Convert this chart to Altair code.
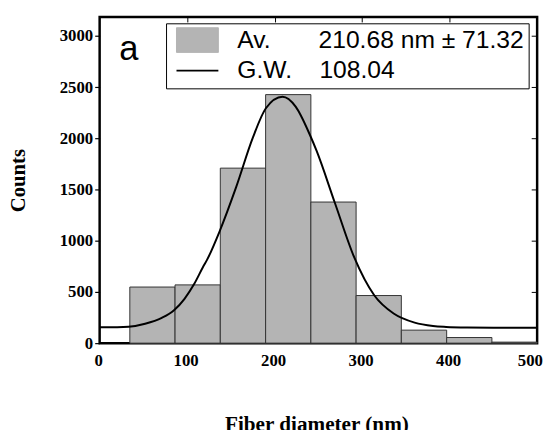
import altair as alt
import pandas as pd

# ---- data ----
bin_edges = [34.5, 86.2, 137.9, 189.7, 241.4, 293.1, 344.8, 396.6, 448.3, 500.0]
bin_counts = [548, 569, 1709, 2427, 1378, 465, 127, 55, 10]

curve_x = [0, 20, 33, 52, 71, 85, 97, 108, 118, 123, 137, 156, 175, 190, 209,
           224, 240, 248, 269, 291, 314, 336, 360, 381, 396, 420, 450, 500]
curve_y = [155, 156, 160, 190, 247, 321, 433, 577, 741, 818, 1090, 1524, 2005,
           2294, 2406, 2310, 2040, 1877, 1366, 837, 465, 289, 200, 167, 158,
           152, 150, 150]

x_ticks = [0, 100, 200, 300, 400, 500]
y_ticks = [0, 500, 1000, 1500, 2000, 2500, 3000]
series_names = ["Av.", "G.W."]
av_text = "Av." + "\u00a0" * 7 + "210.68 nm \u00b1 71.32"
gw_text = "G.W." + "\u00a0" * 4 + "108.04"
panel_label = "a"
x_title = "Fiber diameter (nm)"
y_title = "Counts"

bars_df = pd.DataFrame({
    "x0": bin_edges[:-1],
    "x1": bin_edges[1:],
    "count": bin_counts,
    "series": series_names[0],
})
curve_df = pd.DataFrame({"x": curve_x, "y": curve_y, "series": series_names[1]})

SERIF = "Liberation Serif"
SANS = "Liberation Sans"

xscale = alt.Scale(domain=[0, 500], nice=False, zero=False)
yscale = alt.Scale(domain=[0, 3185], nice=False)
cscale = alt.Scale(domain=series_names, range=["#b4b4b4", "#000000"])

is_av = "datum.value == 'Av.'"
legend = alt.Legend(
    title=None,
    orient="none",
    legendX=67.4,
    legendY=6.4,
    strokeColor="#000000",
    fillColor="#ffffff",
    padding=4.5,
    symbolSize=625,
    symbolOffset=14.85,
    labelOffset=28,
    rowPadding=4,
    labelFont=SANS,
    labelFontSize=25,
    labelColor="#000000",
    labelLimit=0,
    labelExpr=f"{is_av} ? '{av_text}' : '{gw_text}'",
    symbolType={"expr": f"{is_av} ? 'M-1.7,-1H1.7V1H-1.7Z' : 'M-1.7,0H1.7'"},
    symbolFillColor={"expr": f"{is_av} ? '#b4b4b4' : 'transparent'"},
    symbolStrokeColor={"expr": f"{is_av} ? '#333333' : '#000000'"},
    symbolStrokeWidth={"expr": f"{is_av} ? 1 : 1.8"},
    symbolOpacity=1,
)

bars = alt.Chart(bars_df).mark_rect(stroke="#333333", strokeWidth=1, opacity=1).encode(
    x=alt.X(
        "x0:Q",
        scale=xscale,
        axis=alt.Axis(
            values=x_ticks,
            orient="bottom",
            ticks=False,
            tickSize=0,
            domain=False,
            grid=False,
            labelPadding=10,
            labelFont=SERIF,
            labelFontSize=17,
            labelFontWeight="bold",
            labelColor="#000000",
            labelAlign="center",
            labelOffset={"condition": {"test": "datum.value == 500", "value": -7.3}, "value": -1.5},
            title=x_title,
            titleFont=SERIF,
            titleFontSize=21.5,
            titleFontWeight="bold",
            titleColor="#000000",
            titleX=220,
            titleY=88.5,
            titleAlign="center",
            titleBaseline="alphabetic",
        ),
    ),
    x2="x1:Q",
    y=alt.Y(
        "count:Q",
        scale=yscale,
        axis=alt.Axis(
            values=y_ticks,
            format="d",
            orient="left",
            ticks=True,
            tickSize=5,
            tickWidth=1.2,
            tickColor="#000000",
            domain=False,
            grid=False,
            labelPadding=2,
            labelFont=SERIF,
            labelFontSize=17,
            labelFontWeight="bold",
            labelColor="#000000",
            title=y_title,
            titleFont=SERIF,
            titleFontSize=21,
            titleFontWeight="bold",
            titleColor="#000000",
            titleAngle=270,
            titleX=-76,
            titleY=165.5,
            titleAlign="center",
            titleBaseline="alphabetic",
        ),
    ),
    y2=alt.datum(0),
    color=alt.Color("series:N", scale=cscale, legend=legend),
)

curve = alt.Chart(curve_df).mark_line(interpolate="monotone", strokeWidth=2).encode(
    x=alt.X(
        "x:Q",
        scale=xscale,
        axis=alt.Axis(
            orient="top",
            offset=-5,
            values=[100, 200, 300, 400],
            labels=False,
            domain=False,
            grid=False,
            ticks=True,
            tickSize=5,
            tickColor="#000000",
            title=None,
        ),
    ),
    y=alt.Y(
        "y:Q",
        scale=yscale,
        axis=alt.Axis(
            orient="right",
            offset=-6,
            values=[500, 1000, 1500, 2000, 2500, 3000],
            labels=False,
            domain=False,
            grid=False,
            ticks=True,
            tickSize=6,
            tickColor="#000000",
            title=None,
        ),
    ),
    color=alt.Color("series:N", scale=cscale, legend=legend),
)

chart = (
    alt.layer(bars, curve)
    .resolve_axis(x="independent", y="independent")
    .properties(
        width=444,
        height=331,
        autosize=alt.AutoSizeParams(type="none"),
        padding={"left": 93, "top": 6, "right": 9, "bottom": 85},
        title=alt.TitleParams(
            panel_label,
            anchor="start",
            frame="group",
            orient="top",
            offset=0,
            dx=20,
            dy=79,
            font=SANS,
            fontSize=35,
            fontWeight="normal",
            baseline="alphabetic",
            color="#000000",
        ),
        background="white",
    )
    .configure_view(stroke="#000000", strokeWidth=2.5)
)

chart.save("out.html", embed_options={"renderer": "svg", "actions": False})
